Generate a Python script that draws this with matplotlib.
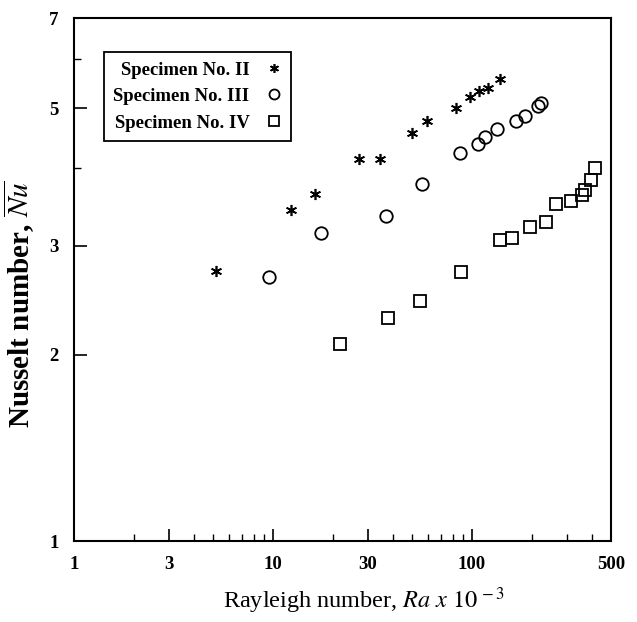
import numpy as np
import matplotlib
matplotlib.use("Agg")
import matplotlib.pyplot as plt
from matplotlib.ticker import FixedLocator, NullFormatter, LogLocator

plt.rcParams['font.family'] = ['Liberation Serif', 'DejaVu Serif']
plt.rcParams['mathtext.fontset'] = 'stix'

# Specimen No. II (asterisks)
ra_2 = [5.2, 12.3, 16.2, 27.2, 34.5, 50.2, 59.7, 82.8, 97.6, 109, 120, 138]
nu_2 = [2.73, 3.43, 3.64, 4.14, 4.15, 4.56, 4.78, 5.00, 5.21, 5.33, 5.40, 5.57]

# Specimen No. III (circles)
ra_3 = [9.6, 17.5, 36.9, 56.4, 87.7, 107, 116, 134, 167, 185, 216, 222]
nu_3 = [2.67, 3.15, 3.35, 3.78, 4.24, 4.38, 4.50, 4.64, 4.77, 4.86, 5.05, 5.11]

# Specimen No. IV (squares)
ra_4 = [21.8, 37.7, 54.8, 88.7, 138, 159, 196, 235, 265, 314, 357, 371, 396, 416]
nu_4 = [2.08, 2.29, 2.44, 2.72, 3.06, 3.09, 3.22, 3.28, 3.51, 3.55, 3.62, 3.69, 3.83, 4.01]

x_ticks = [1, 3, 10, 30, 100, 500]
y_ticks = [1, 2, 3, 5, 7]

fig = plt.figure(figsize=(6.37, 6.22), dpi=100)
ax = fig.add_axes([0.116, 0.130, 0.843, 0.841])

asterisk = (6, 2, 0)
ax.plot(ra_2, nu_2, linestyle='none', marker=asterisk, ms=8, mec='black', mew=1.2,
        label='Specimen No. II')
ax.plot(ra_3, nu_3, linestyle='none', marker='o', ms=9, mfc='none', mec='black', mew=1.3,
        label='Specimen No. III')
ax.plot(ra_4, nu_4, linestyle='none', marker='s', ms=8.5, mfc='none', mec='black', mew=1.3,
        label='Specimen No. IV')

ax.set_xscale('log')
ax.set_yscale('log')
ax.set_xlim(1, 500)
ax.set_ylim(1, 7)

ax.xaxis.set_major_locator(FixedLocator(x_ticks))
ax.xaxis.set_major_formatter(plt.FixedFormatter([str(t) for t in x_ticks]))
ax.xaxis.set_minor_locator(LogLocator(base=10, subs=np.arange(2, 10)))
ax.xaxis.set_minor_formatter(NullFormatter())
ax.yaxis.set_major_locator(FixedLocator(y_ticks))
ax.yaxis.set_major_formatter(plt.FixedFormatter([str(t) for t in y_ticks]))
ax.yaxis.set_minor_locator(FixedLocator([4, 6]))
ax.yaxis.set_minor_formatter(NullFormatter())

ax.tick_params(which='both', direction='in', labelsize=13.5)
ax.tick_params(which='major', length=9, width=1.2, pad=11)
ax.tick_params(which='minor', length=5, width=1.0)
for lab in ax.get_xticklabels() + ax.get_yticklabels():
    lab.set_fontweight('bold')

for s in ax.spines.values():
    s.set_linewidth(1.5)

ax.set_xlabel(r'Rayleigh number, $\mathit{Ra\ x\ 10}^{\,-3}$', fontsize=17.5)
ax.xaxis.set_label_coords(0.54, -0.085)
ax.set_ylabel(r'Nusselt number, $\overline{\mathbf{\mathit{Nu}}}$', fontsize=21,
              fontweight='bold')
ax.yaxis.set_label_coords(-0.068, 0.453)

leg = ax.legend(loc='upper left', bbox_to_anchor=(0.056, 0.935), borderaxespad=0,
                markerfirst=False, fancybox=False, edgecolor='black', framealpha=1,
                handlelength=0.8, handletextpad=0.9, borderpad=0.5, labelspacing=0.5,
                markerscale=0.8,
                prop={'family': 'Liberation Serif', 'weight': 'bold', 'size': 13.5})
leg.get_frame().set_linewidth(1.3)

fig.savefig('out.png', dpi=100)
